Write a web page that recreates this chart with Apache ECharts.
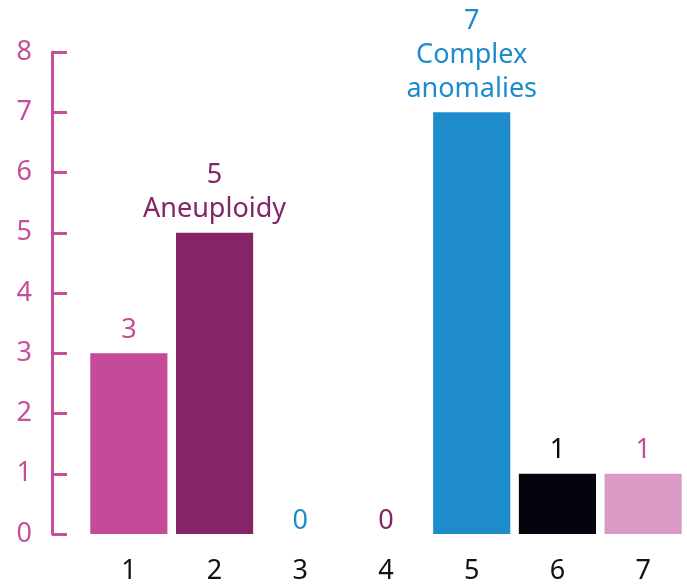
<!DOCTYPE html>
<html>
<head>
<meta charset="utf-8">
<script src="https://cdn.jsdelivr.net/npm/echarts@6/dist/echarts.min.js"></script>
<style>
  html, body { margin: 0; padding: 0; background: #fff; }
  #chart { width: 687px; height: 585px; }
</style>
</head>
<body>
<div id="chart"></div>
<script>
// Categories and counts
const categories = ['1', '2', '3', '4', '5', '6', '7'];
const counts = [3, 5, 0, 0, 7, 1, 1];
const barColors = ['#c44b9a', '#862468', '#1e8bcb', '#862468', '#1e8bcb', '#03040c', '#d99ac3'];
const labelColors = ['#c44b9a', '#862468', '#1e8bcb', '#862468', '#1e8bcb', '#03040c', '#c44b9a'];
const labelNotes = ['', 'Aneuploidy', '', '', 'Complex\nanomalies', '', ''];
const yTicks = [0, 1, 2, 3, 4, 5, 6, 7, 8];

const FONT = 'Noto Sans';
const AXIS_PINK = '#c54f9c';

const seriesData = counts.map((v, i) => ({
  value: v,
  itemStyle: { color: barColors[i] },
  label: {
    color: labelColors[i],
    position: v === 0 ? 'insideBottom' : 'top',
    distance: v === 0 ? 0 : 6,
    lineHeight: v === 0 ? 26 : 34,
    formatter: labelNotes[i] ? v + '\n' + labelNotes[i] : String(v)
  }
}));

const chart = echarts.init(document.getElementById('chart'), null, { renderer: 'canvas' });
chart.setOption({
  animation: false,
  textStyle: { fontFamily: FONT },
  grid: { left: 86, right: 1, top: 52, bottom: 50, containLabel: false },
  xAxis: {
    type: 'category',
    data: categories,
    axisLine: { show: false },
    axisTick: { show: false },
    axisLabel: { color: '#111', fontSize: 27, fontFamily: FONT, margin: 24 }
  },
  yAxis: {
    type: 'value',
    min: yTicks[0],
    max: yTicks[yTicks.length - 1],
    interval: 1,
    offset: 34,
    splitLine: { show: false },
    axisLine: { show: true, lineStyle: { color: AXIS_PINK, width: 3 } },
    axisTick: { show: true, inside: true, length: 15, lineStyle: { color: AXIS_PINK, width: 3 } },
    axisLabel: { color: AXIS_PINK, fontSize: 27, fontFamily: FONT, margin: 20 }
  },
  series: [{
    type: 'bar',
    data: seriesData,
    barCategoryGap: '10%',
    label: {
      show: true,
      fontSize: 27,
      fontFamily: FONT,
      align: 'center'
    }
  }]
});
</script>
</body>
</html>
